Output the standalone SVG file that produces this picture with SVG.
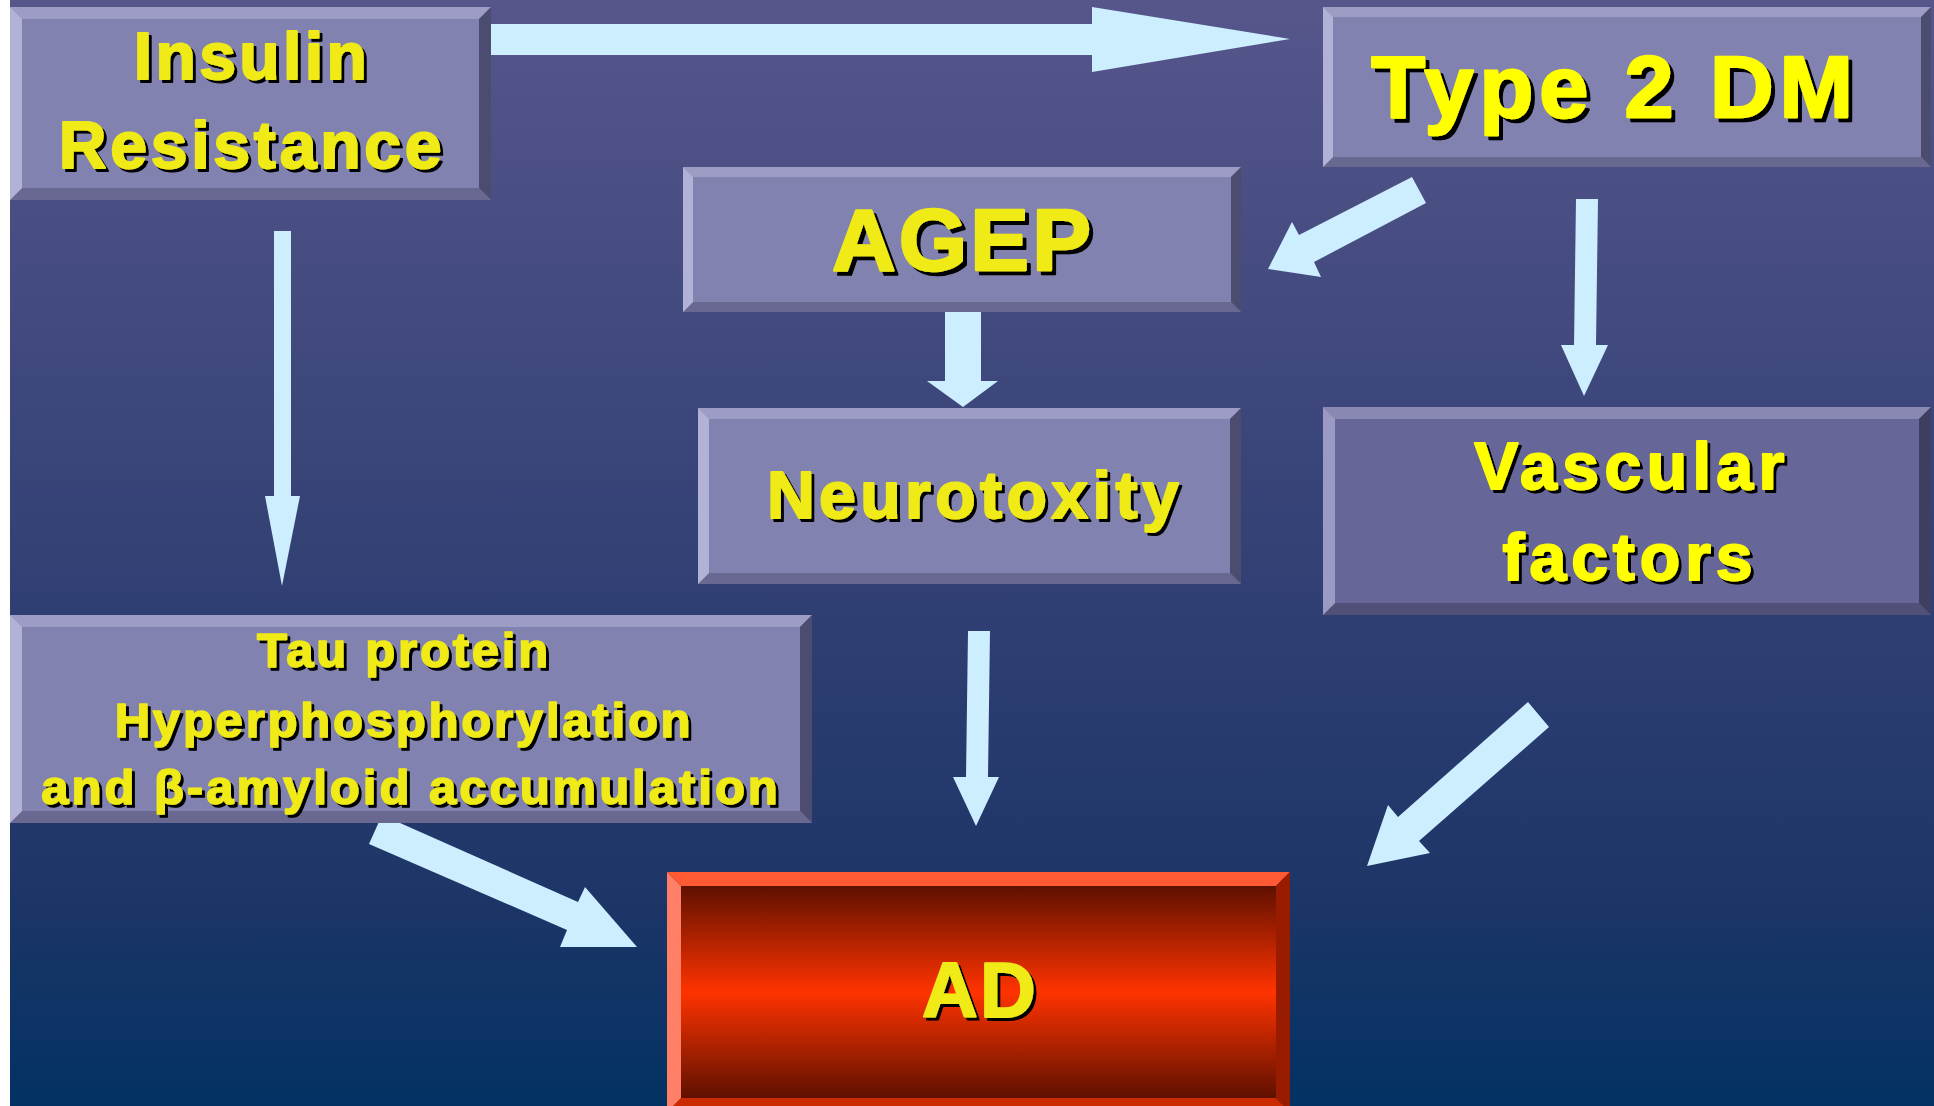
<svg xmlns="http://www.w3.org/2000/svg" width="1934" height="1106" viewBox="0 0 1934 1106">
  <defs>
    <linearGradient id="bg" x1="0" y1="0" x2="0" y2="1">
      <stop offset="0" stop-color="#56568b"/>
      <stop offset="0.55" stop-color="#303f73"/>
      <stop offset="0.82" stop-color="#1c3567"/>
      <stop offset="1" stop-color="#023263"/>
    </linearGradient>
    <linearGradient id="adfill" x1="0" y1="0" x2="0" y2="1">
      <stop offset="0" stop-color="#4a0c00"/>
      <stop offset="0.5" stop-color="#ff3300"/>
      <stop offset="1" stop-color="#4a0c00"/>
    </linearGradient>
    <filter id="sh" x="-5%" y="-5%" width="115%" height="125%">
      <feDropShadow dx="3" dy="3" stdDeviation="0" flood-color="#000" flood-opacity="1"/>
    </filter>
    <filter id="sh4" x="-5%" y="-5%" width="115%" height="125%">
      <feDropShadow dx="4" dy="4" stdDeviation="0" flood-color="#000" flood-opacity="1"/>
    </filter>
  </defs>
  <style>
    .c { fill: #8282b0; }
    .t { fill: #9c9cc4; }
    .l { fill: #b2b2d6; }
    .r { fill: #4c4c70; }
    .b { fill: #686890; }
    .vc { fill: #666699; }
    .vt { fill: #8888b2; }
    .vl { fill: #9a9ac2; }
    .vr { fill: #3e3e60; }
    .vb { fill: #505078; }
    .txt { font-family: "Liberation Sans", Arial, sans-serif; font-weight: bold; fill: #f0eb14; stroke: #f0eb14; stroke-width: 2; stroke-linejoin: round; text-anchor: middle; filter: url(#sh); }
    .yel { fill: #ffff00; stroke: #ffff00; }
    .arrow { fill: #cdeeff; }
  </style>

  <rect x="0" y="0" width="1934" height="1106" fill="#ffffff"/>
  <rect x="10" y="0" width="1924" height="1106" fill="url(#bg)"/>

  <g id="connectors">
    <polygon class="arrow" points="491,24 1092,24 1092,7 1290,39 1092,72 1092,55 491,55"/>
    <polygon class="arrow" points="1412,177 1426,203 1314,262 1321,277 1268,269 1292,222 1299,235"/>
    <polygon class="arrow" points="945,312 981,312 981,381 998,381 963,407 927,381 945,381"/>
    <polygon class="arrow" points="1576,199 1598,199 1596,345 1608,345 1584,396 1561,345 1574,345"/>
    <polygon class="arrow" points="274,231 291,231 291,496 300,496 282,586 265,496 274,496"/>
    <polygon class="arrow" points="968,631 990,631 988,777 999,777 976,826 953,777 966,777"/>
    <polygon class="arrow" points="1528,702 1549,727 1419,841 1430,853 1367,866 1388,805 1398,817"/>
    <polygon class="arrow" points="382,815 578,902 585,887 637,947 560,947 567,930 369,844"/>
  </g>

  <g id="insulin-resistance">
    <rect class="c" x="10" y="7" width="481" height="193"/>
    <polygon class="t" points="10,7 491,7 479,19 22,19"/>
    <polygon class="b" points="10,200 491,200 479,188 22,188"/>
    <polygon class="l" points="10,7 22,19 22,188 10,200"/>
    <polygon class="r" points="491,7 491,200 479,188 479,19"/>
    <text class="txt" x="252" y="79" font-size="66" letter-spacing="3.4">Insulin</text>
    <text class="txt" x="252" y="168" font-size="66" letter-spacing="3.8">Resistance</text>
  </g>

  <g id="type2dm">
    <rect class="c" x="1323" y="7" width="608" height="160"/>
    <polygon class="t" points="1323,7 1931,7 1921,17 1333,17"/>
    <polygon class="b" points="1323,167 1931,167 1921,157 1333,157"/>
    <polygon class="l" points="1323,7 1333,17 1333,157 1323,167"/>
    <polygon class="r" points="1931,7 1931,167 1921,157 1921,17"/>
    <text class="txt yel" x="1615" y="117" font-size="88" letter-spacing="6" style="filter:url(#sh4);stroke-width:2.5">Type 2 DM</text>
  </g>

  <g id="agep">
    <rect class="c" x="683" y="167" width="558" height="145"/>
    <polygon class="t" points="683,167 1241,167 1231,177 693,177"/>
    <polygon class="b" points="683,312 1241,312 1231,302 693,302"/>
    <polygon class="l" points="683,167 693,177 693,302 683,312"/>
    <polygon class="r" points="1241,167 1241,312 1231,302 1231,177"/>
    <text class="txt" x="963" y="270" font-size="88" letter-spacing="3.2" style="filter:url(#sh4);stroke-width:2.5">AGEP</text>
  </g>

  <g id="neurotoxity">
    <rect class="c" x="698" y="408" width="543" height="176"/>
    <polygon class="t" points="698,408 1241,408 1230,419 709,419"/>
    <polygon class="b" points="698,584 1241,584 1230,573 709,573"/>
    <polygon class="l" points="698,408 709,419 709,573 698,584"/>
    <polygon class="r" points="1241,408 1241,584 1230,573 1230,419"/>
    <text class="txt" x="975" y="518" font-size="66" letter-spacing="4.5">Neurotoxity</text>
  </g>

  <g id="vascular-factors">
    <rect class="vc" x="1323" y="407" width="608" height="208"/>
    <polygon class="vt" points="1323,407 1931,407 1919,419 1335,419"/>
    <polygon class="vb" points="1323,615 1931,615 1919,603 1335,603"/>
    <polygon class="vl" points="1323,407 1335,419 1335,603 1323,615"/>
    <polygon class="vr" points="1931,407 1931,615 1919,603 1919,419"/>
    <text class="txt yel" x="1632" y="489" font-size="66" letter-spacing="5.5">Vascular</text>
    <text class="txt yel" x="1630" y="580" font-size="66" letter-spacing="5">factors</text>
  </g>

  <g id="tau-protein">
    <rect class="c" x="10" y="615" width="802" height="208"/>
    <polygon class="t" points="10,615 812,615 800,627 22,627"/>
    <polygon class="b" points="10,823 812,823 800,811 22,811"/>
    <polygon class="l" points="10,615 22,627 22,811 10,823"/>
    <polygon class="r" points="812,615 812,823 800,811 800,627"/>
    <text class="txt" x="404" y="667" font-size="49" letter-spacing="2.8" style="stroke-width:1.6">Tau protein</text>
    <text class="txt" x="404" y="737" font-size="49" letter-spacing="2.8" style="stroke-width:1.6">Hyperphosphorylation</text>
    <text class="txt" x="411" y="804" font-size="49" letter-spacing="3" style="stroke-width:1.6">and β-amyloid accumulation</text>
  </g>

  <g id="ad">
    <rect x="667" y="872" width="623" height="240" fill="url(#adfill)"/>
    <polygon fill="#ff5a33" points="667,872 1290,872 1276,886 681,886"/>
    <polygon fill="#cc2a00" points="667,1112 1290,1112 1276,1098 681,1098"/>
    <polygon fill="#ff8066" points="667,872 681,886 681,1098 667,1112"/>
    <polygon fill="#9a1c00" points="1290,872 1290,1112 1276,1098 1276,886"/>
    <text class="txt" x="980" y="1017" font-size="77" letter-spacing="2.5">AD</text>
  </g>
</svg>
